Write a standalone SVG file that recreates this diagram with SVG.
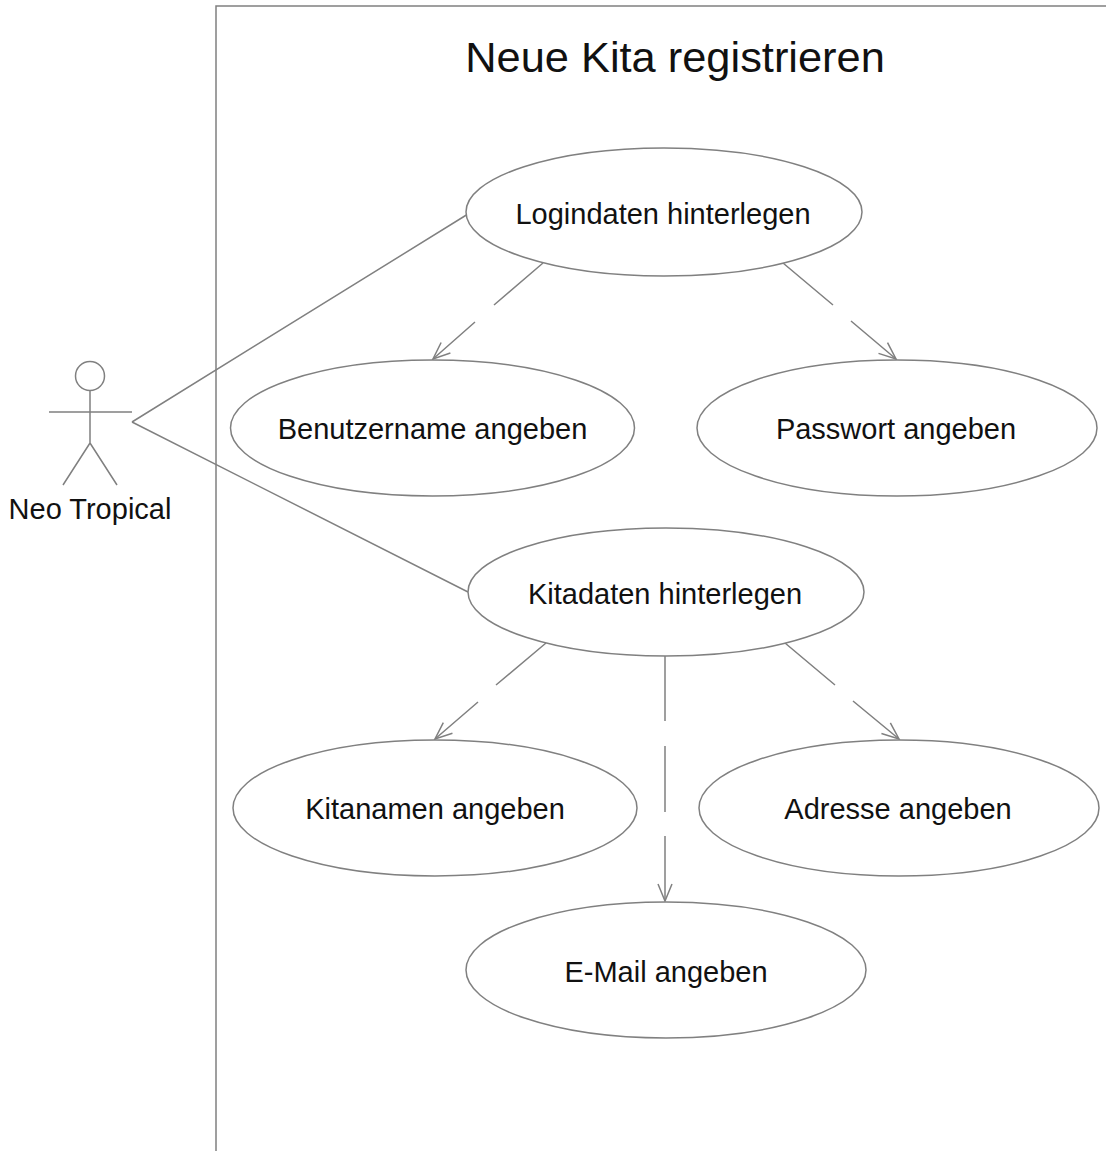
<svg xmlns="http://www.w3.org/2000/svg" width="1106" height="1151" viewBox="0 0 1106 1151">
<style>
text{font-family:"Liberation Sans",Arial,sans-serif;fill:#111;text-anchor:middle}
.l{font-size:29px}
.t{font-size:43.4px}
.s{fill:#fff;stroke:#808080;stroke-width:1.5}
.c{fill:none;stroke:#808080;stroke-width:1.5}
</style>
<defs><marker id="arrow" markerUnits="userSpaceOnUse" markerWidth="24" markerHeight="24" refX="19" refY="10" orient="auto"><path d="M2 3L19 10L2 17" fill="none" stroke="#808080" stroke-width="1.5"/></marker></defs>
<rect width="1106" height="1151" fill="#fff"/>
<g id="boundary"><path class="c" d="M216 1151V6H1106"/></g>
<text class="t" x="675" y="72">Neue Kita registrieren</text>
<g id="actor"><circle class="s" cx="90" cy="376" r="14.5"/><path class="c" d="M49 412H132M90 391V443M90 443L63 485M90 443L117 485"/><text class="l" x="90" y="519">Neo Tropical</text></g>
<g id="connectors">
<path class="c" d="M132 422L468 214M132 422L468 592"/>
<path class="c" d="M543 263L494 305M475 322L433 359" marker-end="url(#arrow)"/>
<path class="c" d="M783 263L833 305M851 321L896 359" marker-end="url(#arrow)"/>
<path class="c" d="M546 643L496 685M478 702L435 739" marker-end="url(#arrow)"/>
<path class="c" d="M785 643L835 685M853 701L899 739" marker-end="url(#arrow)"/>
<path class="c" d="M665 655V721M665 746V812M665 836V901" marker-end="url(#arrow)"/>
</g>
<g id="login"><ellipse class="s" cx="664" cy="212" rx="198" ry="64"/><text class="l" x="663" y="224">Logindaten hinterlegen</text></g>
<g id="benutzer"><ellipse class="s" cx="432.500" cy="428" rx="202" ry="68"/><text class="l" x="432.500" y="439">Benutzername angeben</text></g>
<g id="passwort"><ellipse class="s" cx="897" cy="428" rx="200" ry="68"/><text class="l" x="896" y="439">Passwort angeben</text></g>
<g id="kitadaten"><ellipse class="s" cx="666" cy="592" rx="198" ry="64"/><text class="l" x="665" y="604">Kitadaten hinterlegen</text></g>
<g id="kitanamen"><ellipse class="s" cx="435" cy="808" rx="202" ry="68"/><text class="l" x="435" y="819">Kitanamen angeben</text></g>
<g id="adresse"><ellipse class="s" cx="899" cy="808" rx="200" ry="68"/><text class="l" x="898" y="819">Adresse angeben</text></g>
<g id="email"><ellipse class="s" cx="666" cy="970" rx="200" ry="68"/><text class="l" x="666" y="982">E-Mail angeben</text></g>
</svg>
